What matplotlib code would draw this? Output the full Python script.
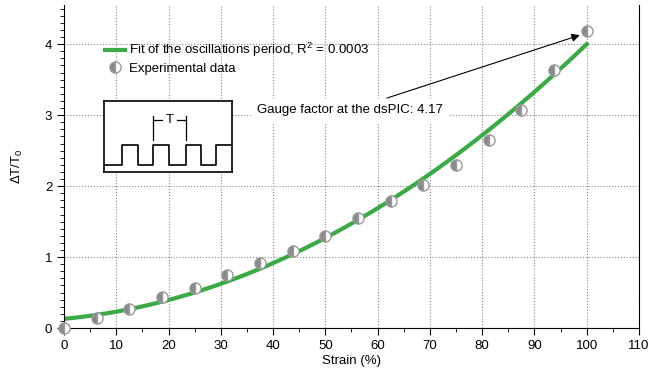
import numpy as np
from matplotlib import pyplot as plt
from matplotlib.ticker import MultipleLocator

plt.rcParams['font.family'] = ['Liberation Sans', 'DejaVu Sans']
plt.rcParams['mathtext.fontset'] = 'custom'
plt.rcParams['mathtext.rm'] = 'Liberation Sans'
plt.rcParams['mathtext.default'] = 'regular'
plt.rcParams['font.size'] = 9

# experimental points
strain = [0, 6.25, 12.5, 18.75, 25, 31.25, 37.5, 43.75, 50, 56.25,
          62.5, 68.75, 75, 81.25, 87.5, 93.75, 100]
dT = [0.0, 0.14, 0.27, 0.44, 0.56, 0.75, 0.92, 1.08, 1.30, 1.55,
      1.79, 2.01, 2.30, 2.65, 3.07, 3.63, 4.18]

# quadratic fit coefficients (c0, c1, c2)
fit_coef = [0.13, 0.0069, 0.000318]

# square wave for the inset sketch
wave_x = [0, 18, 18, 34, 34, 49, 49, 65, 65, 82, 82, 97, 97, 112, 112, 128]
wave_y = [7, 7, 27, 27, 7, 7, 27, 27, 7, 7, 27, 27, 7, 7, 27, 27]

green = '#3aaa45'

if __name__ == '__main__':
    fig = plt.figure(figsize=(6.5, 3.69), dpi=100)
    ax = fig.add_axes([0.0985, 0.111, 0.8845, 0.875])

    xs = np.linspace(0, 100, 200)
    fit = fit_coef[0] + fit_coef[1] * xs + fit_coef[2] * xs ** 2
    ax.plot(xs, fit, color=green, lw=3, zorder=2,
            label='Fit of the oscillations period, R$^2$ = 0.0003')
    ax.plot(strain, dT, ls='none', marker='o', markersize=8,
            fillstyle='left', markerfacecolor='#8a8a8a',
            markerfacecoloralt='white', markeredgecolor='#9a9a9a',
            markeredgewidth=1, zorder=3, clip_on=False,
            label='Experimental data')

    ax.set_xlim(0, 110)
    ax.set_ylim(0, 4.55)
    ax.xaxis.set_major_locator(MultipleLocator(10))
    ax.xaxis.set_minor_locator(MultipleLocator(5))
    ax.yaxis.set_major_locator(MultipleLocator(1))
    ax.yaxis.set_minor_locator(MultipleLocator(0.1))
    ax.tick_params(which='both', direction='out', top=False, right=False,
                   labelsize=9.5)
    ax.tick_params(which='major', length=5)
    ax.tick_params(which='minor', length=3)
    ax.spines['top'].set_visible(False)
    ax.grid(True, which='major', ls=':', color='#888888', lw=0.8)
    ax.set_axisbelow(True)
    ax.set_xlabel('Strain (%)', labelpad=2, fontsize=9.5)
    ax.set_ylabel('ΔT/T$_0$', labelpad=14, fontsize=9.5)

    ax.legend(loc='upper left', bbox_to_anchor=(0.062, 0.905), frameon=False,
              handlelength=1.5, handletextpad=0.3, borderaxespad=0,
              labelspacing=0.25, fontsize=9.5)

    ax.annotate('Gauge factor at the dsPIC: 4.17', xy=(99.2, 4.14),
                xytext=(36.9, 3.07), ha='left', va='center', fontsize=9.5,
                backgroundcolor='white',
                arrowprops=dict(arrowstyle='-|>', color='black', lw=0.8,
                                mutation_scale=12, shrinkA=0, shrinkB=2))

    # inset sketch of the oscillator output
    ins = fig.add_axes([0.16, 0.534, 0.197, 0.192])
    ins.set_xlim(0, 128)
    ins.set_ylim(0, 71)
    ins.set_xticks([])
    ins.set_yticks([])
    for s in ins.spines.values():
        s.set_linewidth(1.2)
    ins.plot(wave_x, wave_y, color='black', lw=1.2)
    ins.plot([49, 49], [32, 56], color='black', lw=0.9)
    ins.plot([82, 82], [32, 56], color='black', lw=0.9)
    ins.plot([49, 58], [52, 52], color='black', lw=0.9)
    ins.plot([73, 82], [52, 52], color='black', lw=0.9)
    ins.text(65.5, 52, 'T', ha='center', va='center', fontsize=9.5)

    fig.savefig('out.png', dpi=100)
